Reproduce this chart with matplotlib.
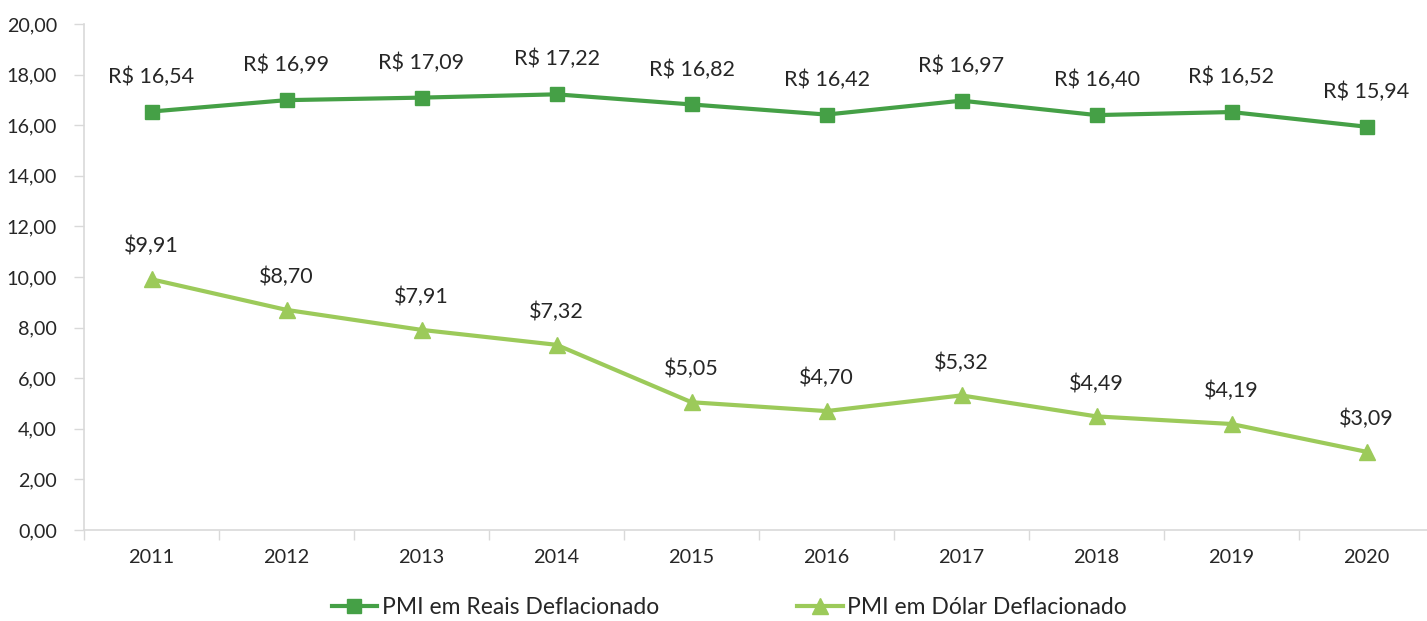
import matplotlib
matplotlib.use("Agg")
import matplotlib.pyplot as plt
from matplotlib.ticker import FixedLocator, NullFormatter

years = ["2011", "2012", "2013", "2014", "2015", "2016", "2017", "2018", "2019", "2020"]
reais = [16.54, 16.99, 17.09, 17.22, 16.82, 16.42, 16.97, 16.40, 16.52, 15.94]
dolar = [9.91, 8.70, 7.91, 7.32, 5.05, 4.70, 5.32, 4.49, 4.19, 3.09]
yticks = [0, 2, 4, 6, 8, 10, 12, 14, 16, 18, 20]

dark_green = "#45A046"
light_green = "#9CCA5A"
text_col = "#262626"
axis_col = "#D9D9D9"

plt.rcParams['font.family'] = ['Lato', 'DejaVu Sans']

W, H = 1427, 621
fig = plt.figure(figsize=(W / 100, H / 100), dpi=100)
ax = fig.add_axes([84 / W, (H - 530) / H, (W - 84) / W, (530 - 24) / H])

x = list(range(len(years)))
ax.plot(x, reais, color=dark_green, lw=3, marker="s", markersize=10.5,
        label="PMI em Reais Deflacionado", zorder=3)
ax.plot(x, dolar, color=light_green, lw=3, marker="^", markersize=11.5,
        label="PMI em Dólar Deflacionado", zorder=3)

def fmt(v):
    return f"{v:.2f}".replace(".", ",")

for xi, v in zip(x, reais):
    ax.annotate("R$ " + fmt(v), (xi, v), xytext=(0, 35), textcoords="offset pixels",
                ha="center", va="center", fontsize=15.5, color=text_col)
for xi, v in zip(x, dolar):
    ax.annotate("$" + fmt(v), (xi, v), xytext=(0, 33), textcoords="offset pixels",
                ha="center", va="center", fontsize=15.5, color=text_col)

ax.set_xlim(-0.5, -0.5 + (W - 84) / 135)
ax.set_ylim(0, 20)
ax.set_yticks(yticks)
ax.set_yticklabels([fmt(t) for t in yticks])
ax.set_xticks(x)
ax.set_xticklabels(years)
ax.xaxis.set_minor_locator(FixedLocator([i + 0.5 for i in range(-1, len(years))]))
ax.xaxis.set_minor_formatter(NullFormatter())
ax.tick_params(axis="x", which="major", length=0, pad=14, labelsize=14.3, labelcolor=text_col)
ax.tick_params(axis="x", which="minor", length=7, width=1, color=axis_col, direction="out")
ax.tick_params(axis="y", length=7, width=1, color=axis_col, pad=12.5, labelsize=14.2, labelcolor=text_col)

for s in ["top", "right"]:
    ax.spines[s].set_visible(False)
for s in ["left", "bottom"]:
    ax.spines[s].set_color(axis_col)
    ax.spines[s].set_linewidth(1.2)

leg = fig.legend(loc="center", bbox_to_anchor=(0.511, (H - 608) / H), ncol=2,
                 frameon=False, fontsize=16.5, handlelength=2.0, columnspacing=6.0,
                 handletextpad=0.2, labelcolor=text_col)

fig.savefig("out.png", dpi=100)
